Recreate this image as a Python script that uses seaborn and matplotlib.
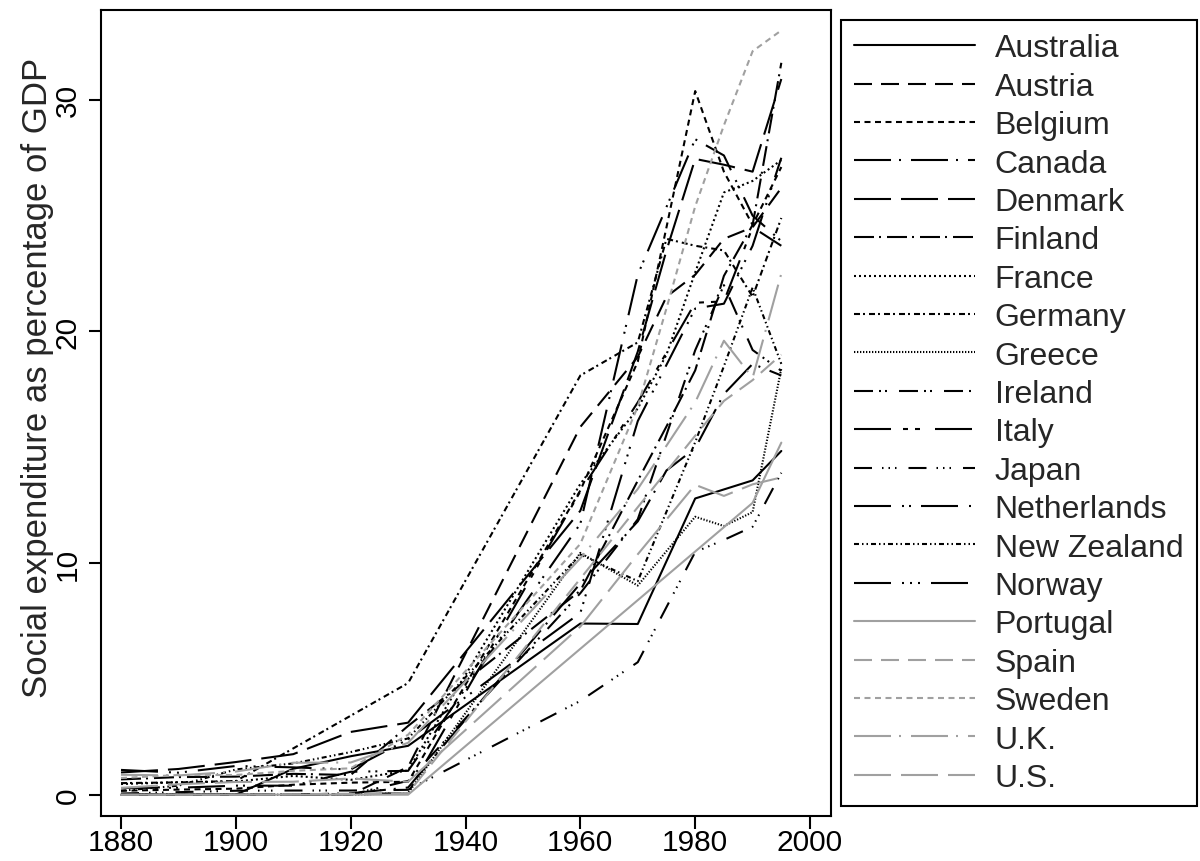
import numpy as np
import pandas as pd
import matplotlib
matplotlib.use("Agg")
import matplotlib.pyplot as plt
from matplotlib.lines import Line2D
import seaborn as sns

nan = np.nan
years = [1880, 1890, 1900, 1910, 1920, 1930, 1960, 1970, 1975, 1980, 1985, 1990, 1995]

countries = ["Australia", "Austria", "Belgium", "Canada", "Denmark", "Finland",
             "France", "Germany", "Greece", "Ireland", "Italy", "Japan",
             "Netherlands", "New Zealand", "Norway", "Portugal", "Spain",
             "Sweden", "U.K.", "U.S."]

australia   = [0, 0, 0, 1.12, 1.66, 2.11, 7.39, 7.37, nan, 12.79, nan, 13.57, 14.84]
austria     = [0, 0, 0, 0, 0, 1.20, 15.88, 18.90, 21.5, 22.45, 24.0, 24.5, 26.2]
belgium     = [0.17, 0.22, 0.26, 0.43, 0.52, 0.56, 13.14, 18.70, 24.5, 30.38, 26.9, 24.6, 27.1]
canada      = [0, 0, 0, 0, 0.06, 0.31, 9.12, 11.80, 14.0, 14.96, 17.3, 18.6, 18.1]
denmark     = [0.96, 1.11, 1.41, 1.75, 2.71, 3.11, 12.26, 19.13, 23.5, 27.45, 27.2, 26.9, 30.9]
finland     = [0.66, 0.76, 0.78, 0.90, 0.85, 2.97, 8.81, 13.56, 15.9, 18.32, 22.4, 24.6, 31.6]
france      = [0.46, 0.54, 0.57, 0.81, 0.64, 1.05, 13.42, 16.68, 19.0, 22.55, 26.0, 26.5, 27.4]
germany     = [0.50, 0.53, 0.59, nan, nan, 4.82, 18.10, 19.53, 24.0, 23.70, 23.5, 21.5, 24.9]
greece      = [0, 0, 0, 0, 0, 0.07, 10.44, 9.03, nan, 12.0, 11.6, 12.2, 18.4]
ireland     = [0, 0, 0, 0, 0, 0.6, 8.70, 11.89, nan, 19.19, 22.0, 19.2, 18.3]
italy       = [0, 0, 0, 0, 0, 0.08, 13.10, 16.94, nan, 21.24, 21.3, 24.5, 23.7]
japan       = [0.05, 0.11, 0.17, 0.18, 0.18, 0.21, 4.05, 5.72, nan, 10.48, 11.0, 11.57, 13.9]
netherlands = [0.29, 0.30, 0.39, 0.39, 0.99, 1.03, 11.70, 22.45, nan, 28.3, 27.6, 25.0, 23.9]
new_zealand = [0.17, 0.39, 1.09, 1.35, 1.84, 2.43, 10.37, 9.22, nan, 15.22, 18.5, 21.9, 18.6]
norway      = [1.07, 0.95, 1.24, 1.18, 1.09, 2.39, 7.85, 16.13, nan, 20.99, 21.2, 23.7, 27.5]
portugal    = [0, 0, 0, 0, 0, 0, nan, nan, nan, 10.5, nan, 12.6, 15.2]
spain       = [0, 0, 0, 0.02, 0.04, 0.07, nan, nan, nan, 15.5, 17.0, 17.9, 19.0]
sweden      = [0.72, 0.85, 0.85, 1.03, 1.14, 2.59, 10.83, 16.76, 21.0, 25.4, 28.9, 32.1, 33.0]
uk          = [0.86, 0.83, 1.00, 1.38, 1.39, 2.24, 10.21, 13.20, nan, 16.94, 19.6, 18.0, 22.5]
us          = [0.29, 0.45, 0.55, 0.56, 0.70, 0.56, 7.26, 10.38, nan, 13.38, 12.9, 13.4, 13.7]

series = [australia, austria, belgium, canada, denmark, finland, france, germany,
          greece, ireland, italy, japan, netherlands, new_zealand, norway,
          portugal, spain, sweden, uk, us]

rows = []
for name, vals in zip(countries, series):
    for yr, v in zip(years, vals):
        rows.append((name, yr, v))
df = pd.DataFrame(rows, columns=["country", "year", "value"]).dropna()

# ---- styles ----
LW = 1.5
DPI = 100
PX = LW * DPI / 72.0


def dp(*px):
    return tuple(p / PX for p in px)


base_dashes = [
    "",                                   # solid
    dp(18, 9),                            # dashed
    dp(6, 4.5),                           # short dashes
    dp(37, 8, 2, 10),                     # long dash dot
    dp(37, 10),                           # long dash
    dp(20, 5, 2, 6),                      # dash dot
    dp(2, 3),                             # dotted
    dp(6, 3, 2, 4),                       # short dash dot
    dp(1.3, 1.7),                         # fine dotted
    dp(19, 6, 2, 4, 2, 12),               # dash dot dot
    dp(37, 12, 5, 7, 5, 15),              # long dash, two short
    dp(18, 10, 1.5, 5, 1.5, 5, 1.5, 12),  # dash three dots
    dp(37, 11, 2, 5, 2, 10),              # long dash two dots
    dp(5, 3, 1.5, 3, 1.5, 3),             # short dash two dots
    dp(37, 11, 2, 6, 2, 6, 2, 11),        # long dash three dots
]
grey = "#a0a0a0"
dash_map = {}
color_map = {}
for i, c in enumerate(countries):
    if i < 15:
        dash_map[c] = base_dashes[i]
        color_map[c] = "black"
    else:
        dash_map[c] = base_dashes[i - 15]
        color_map[c] = grey

sns.set_style("ticks")
plt.rcParams["font.family"] = ["Liberation Sans", "DejaVu Sans"]

W, H = 1200, 862
fig = plt.figure(figsize=(W / DPI, H / DPI), dpi=DPI)
L, R, T, B = 100.7, 830.7, 11.0, 816.7
ax = fig.add_axes([L / W, 1 - B / H, (R - L) / W, (B - T) / H])

sns.lineplot(data=df, x="year", y="value", hue="country", style="country",
             hue_order=countries, style_order=countries,
             palette=color_map, dashes=dash_map, linewidth=LW,
             estimator=None, sort=True, legend=False, ax=ax)

ax.set_xlim(1876.46, 2003.6)
ax.set_ylim(-0.907, 33.88)
ax.set_xticks([1880, 1900, 1920, 1940, 1960, 1980, 2000])
ax.set_yticks([0, 10, 20, 30])
ax.set_xlabel("")
ylab = ax.set_ylabel("Social expenditure as percentage of GDP", fontsize=25,
                     va="center", ha="center")
ax.yaxis.set_label_coords((38 - L) / (R - L), (B - 378) / (B - T))
ax.tick_params(axis="both", direction="out", length=9, width=1.5,
               labelsize=21.5, color="black", labelcolor="black")
ax.tick_params(axis="x", pad=-0.5)
ax.tick_params(axis="y", pad=4.5)
for lab in ax.get_yticklabels():
    lab.set_rotation(90)
    lab.set_va("center")
for sp in ax.spines.values():
    sp.set_visible(True)
    sp.set_linewidth(1.5)
    sp.set_color("black")
ax.grid(False)

handles = []
for c in countries:
    h = Line2D([], [], color=color_map[c], lw=LW)
    if dash_map[c] != "":
        h.set_dashes(dash_map[c])
    else:
        h.set_linestyle("-")
    handles.append(h)

FS_LEG = 23
leg = fig.legend(handles, countries, loc="upper left",
                 bbox_to_anchor=(841 / W, 1 - 21 / H), bbox_transform=fig.transFigure,
                 fontsize=FS_LEG, frameon=True, fancybox=False, shadow=False,
                 handlelength=3.76, handletextpad=0.63, labelspacing=0.263,
                 borderpad=0.42, borderaxespad=0.0)
fr = leg.get_frame()
fr.set_edgecolor("black")
fr.set_linewidth(1.5)
fr.set_facecolor("white")
fr.set_alpha(1.0)

fig.savefig("out.png", dpi=DPI)
